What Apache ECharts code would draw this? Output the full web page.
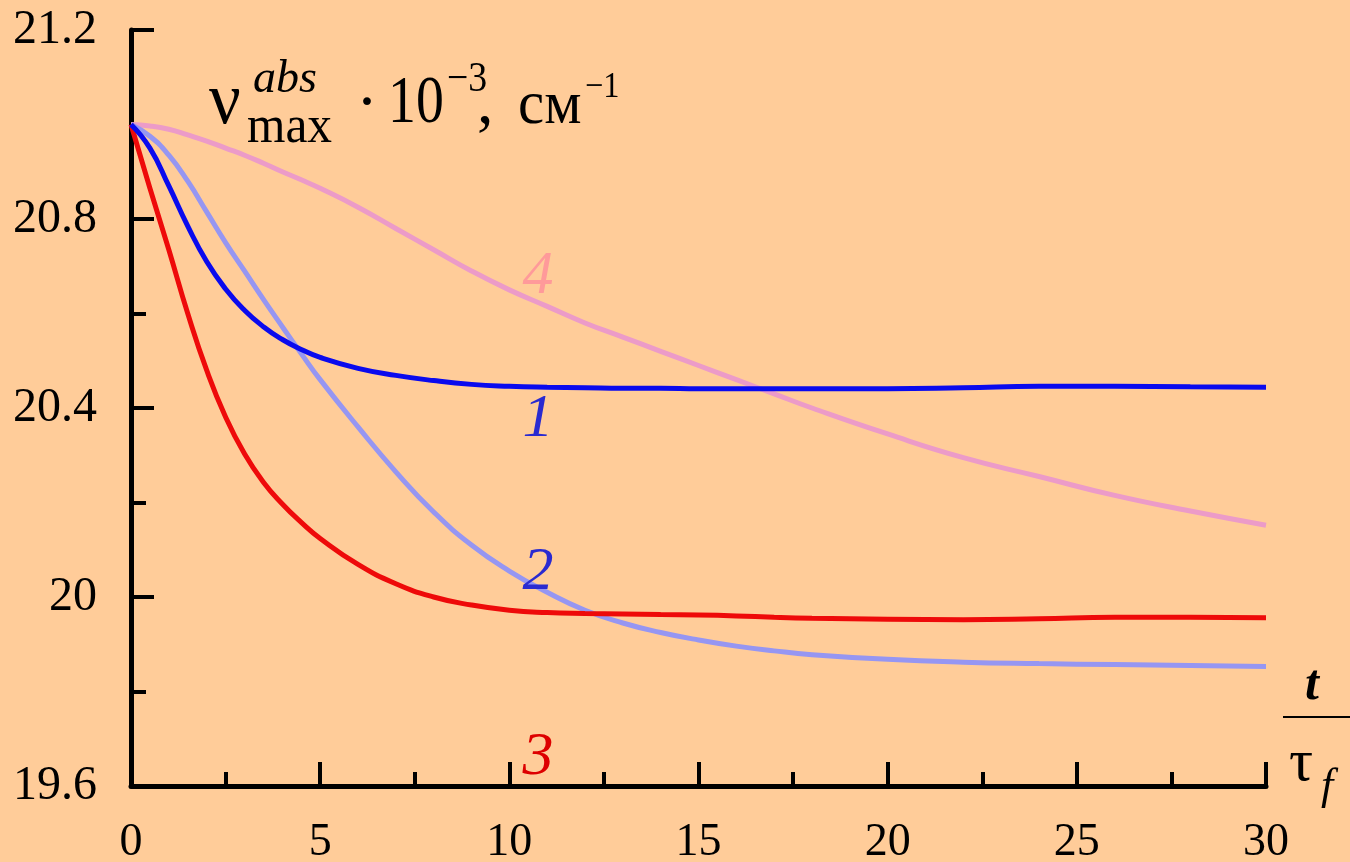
<!DOCTYPE html>
<html>
<head>
<meta charset="utf-8">
<script src="https://cdn.jsdelivr.net/npm/echarts@6/dist/echarts.min.js"></script>
<style>
  html, body { margin: 0; padding: 0; background: #FFCC99; }
  #main { width: 1350px; height: 862px; }
</style>
</head>
<body>
<div id="main"></div>
<script>
    var chart = echarts.init(document.getElementById('main'));

    // t / tau_f
    var tValues = [0, 0.5, 1, 1.5, 2, 2.5, 3, 3.5, 4, 4.5, 5, 6, 7, 8, 9, 10, 11, 12, 13, 14, 15, 16, 17, 18, 20, 22, 24, 26, 28, 30];

    // curve 1 (blue)
    var curve1 = [21.0, 20.95, 20.87, 20.785, 20.71, 20.652, 20.607, 20.572, 20.545, 20.524, 20.507, 20.484, 20.469, 20.458, 20.45, 20.446, 20.444, 20.443, 20.442, 20.442, 20.441, 20.441, 20.441, 20.441, 20.441, 20.443, 20.446, 20.446, 20.445, 20.444];
    // curve 2 (light blue)
    var curve2 = [21.0, 20.975, 20.935, 20.88, 20.815, 20.75, 20.69, 20.63, 20.572, 20.515, 20.46, 20.36, 20.265, 20.18, 20.11, 20.055, 20.01, 19.972, 19.945, 19.925, 19.909, 19.896, 19.886, 19.878, 19.868, 19.862, 19.859, 19.857, 19.855, 19.853];
    // curve 3 (red)
    var curve3 = [21.0, 20.865, 20.735, 20.60, 20.48, 20.381, 20.303, 20.243, 20.197, 20.158, 20.124, 20.069, 20.028, 20.0, 19.983, 19.972, 19.967, 19.965, 19.964, 19.963, 19.962, 19.96, 19.957, 19.955, 19.953, 19.952, 19.954, 19.957, 19.957, 19.956];
    // curve 4 (pink)
    var curve4 = [21.0, 20.997, 20.99, 20.978, 20.965, 20.95, 20.935, 20.918, 20.90, 20.883, 20.865, 20.825, 20.78, 20.735, 20.69, 20.65, 20.615, 20.58, 20.55, 20.52, 20.49, 20.46, 20.43, 20.40, 20.345, 20.295, 20.255, 20.215, 20.182, 20.152];

    // curve number labels: [name, t, value]
    var curveLabels = [
        ['1', 10.76, 20.375],
        ['2', 10.76, 20.051],
        ['3', 10.76, 19.659],
        ['4', 10.76, 20.677]
    ];

    var serif = 'Liberation Serif';

    function pairs(ys) {
        return tValues.map(function (t, i) { return [t, ys[i]]; });
    }

    function makeSeries(ys, color, labelIdx, labelColor) {
        var lb = curveLabels[labelIdx];
        return {
            type: 'line',
            data: pairs(ys),
            smooth: 0.5,
            symbol: 'none',
            lineStyle: { color: color, width: 5 },
            animation: false,
            z: 3,
            markPoint: {
                symbol: 'circle',
                symbolSize: 0,
                animation: false,
                data: [{
                    coord: [lb[1], lb[2]],
                    label: {
                        show: true,
                        position: 'inside',
                        formatter: lb[0],
                        color: labelColor,
                        fontFamily: serif,
                        fontStyle: 'italic',
                        fontSize: 62
                    }
                }]
            }
        };
    }

    function txt(x, y, text, font, sx, extra) {
        var st = { text: text, font: font, fill: '#000', verticalAlign: 'middle' };
        for (var k in extra || {}) st[k] = extra[k];
        return { type: 'text', x: x, y: y, scaleX: sx || 1, style: st };
    }

    var option = {
        backgroundColor: '#FFCC99',
        animation: false,
        grid: { left: 131, right: 84, top: 30, bottom: 76, containLabel: false, outerBoundsMode: 'none' },
        xAxis: {
            type: 'value',
            min: 0,
            max: 30,
            interval: 5,
            axisLine: { show: true, onZero: false, lineStyle: { color: '#000', width: 5 } },
            axisTick: { show: true, inside: true, length: 24, lineStyle: { color: '#000', width: 4 } },
            minorTick: { show: true, splitNumber: 2, length: 14, lineStyle: { color: '#000', width: 4 } },
            splitLine: { show: false },
            axisLabel: {
                margin: 34,
                color: '#000',
                fontFamily: serif,
                fontSize: 46
            }
        },
        yAxis: {
            type: 'value',
            min: 19.6,
            max: 21.2,
            interval: 0.4,
            axisLine: { show: true, lineStyle: { color: '#000', width: 5 } },
            axisTick: { show: true, inside: true, length: 23, lineStyle: { color: '#000', width: 4 } },
            minorTick: { show: true, splitNumber: 2, length: 15, lineStyle: { color: '#000', width: 4 } },
            splitLine: { show: false },
            axisLabel: {
                margin: 34,
                color: '#000',
                fontFamily: serif,
                fontSize: 48,
                formatter: function (v) {
                    return String(Math.round(v * 10) / 10);
                }
            }
        },
        series: [
            makeSeries(curve4, '#EC9BC8', 3, '#FF9A9A'),
            makeSeries(curve2, '#9696F2', 1, '#2A2AD0'),
            makeSeries(curve3, '#EE0A0A', 2, '#DD0000'),
            makeSeries(curve1, '#0A0AEE', 0, '#2A2AD0')
        ],
        graphic: {
            elements: [
                // y axis title
                txt(209, 104, 'ν', '74px ' + serif, 0.95),
                txt(253, 80, 'abs', 'italic 46px ' + serif, 1),
                txt(247, 128, 'max', '52px ' + serif, 0.95),
                txt(356, 106, '·', '66px ' + serif, 1),
                txt(388, 104, '10', '68px ' + serif, 0.82),
                txt(447, 80, '−3', '42px ' + serif, 0.9),
                txt(477, 106, ',', '66px ' + serif, 1),
                txt(518, 107, 'см', '62px ' + serif, 0.95),
                txt(585, 88, '−1', '36px ' + serif, 0.9),
                // x axis title t / tau_f
                txt(1312, 686, 't', 'italic bold 50px ' + serif, 1, { align: 'center' }),
                { type: 'line', shape: { x1: 1283, y1: 717, x2: 1350, y2: 717 }, style: { stroke: '#000', lineWidth: 2 } },
                txt(1289, 764, 'τ', '60px ' + serif, 1),
                txt(1321, 787, 'f', 'italic 44px ' + serif, 1)
            ]
        }
    };

    chart.setOption(option);
</script>
</body>
</html>
